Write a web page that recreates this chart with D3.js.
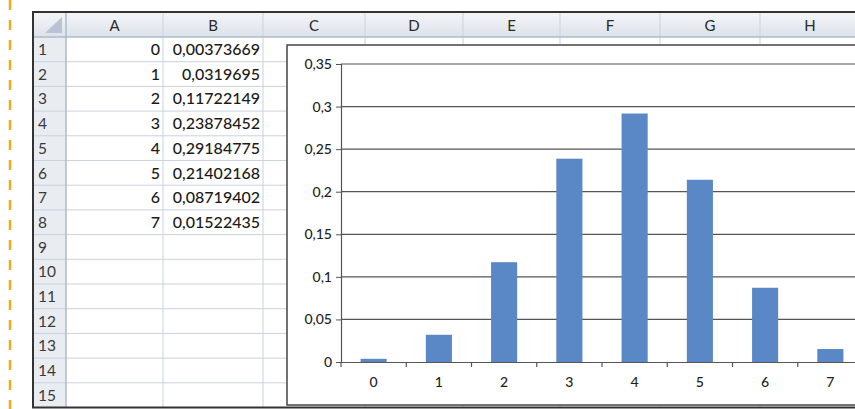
<!DOCTYPE html>
<html><head><meta charset="utf-8">
<script src="https://cdn.jsdelivr.net/npm/d3@7"></script>
<style>
html,body{margin:0;padding:0;background:#fff;overflow:hidden}
svg{display:block;font-family:Lato,"Open Sans",sans-serif}
</style></head>
<body><svg id="c" width="855" height="409"></svg>
<script>
// ---- data ----
const categories = [0, 1, 2, 3, 4, 5, 6, 7];
const values = [0.00373669, 0.0319695, 0.11722149, 0.23878452, 0.29184775, 0.21402168, 0.08719402, 0.01522435];
const valueLabels = ["0,00373669", "0,0319695", "0,11722149", "0,23878452", "0,29184775", "0,21402168", "0,08719402", "0,01522435"];
const yTicks = [0, 0.05, 0.1, 0.15, 0.2, 0.25, 0.3, 0.35];
const yTickLabels = ["0", "0,05", "0,1", "0,15", "0,2", "0,25", "0,3", "0,35"];
const columnLetters = ["A", "B", "C", "D", "E", "F", "G", "H"];
const rowNumbers = d3.range(1, 16);

const svg = d3.select("#c");
const FONT = "Lato,'Open Sans',sans-serif";

// ---- spreadsheet grid ----
const colEdges = [66, 163, 263, 365, 463, 560, 660, 760, 860];
const rowTop = 37, rowH = 24.7, headTop = 12;
const sheetLeft = 33, sheetBottom = rowTop + rowH * 15;

// orange dashed margin line
svg.append("line").attr("x1", 10).attr("x2", 10).attr("y1", 0).attr("y2", 409)
  .attr("stroke", "#f0a81c").attr("stroke-width", 2.5).attr("stroke-dasharray", "10,10");

const defs = svg.append("defs");
const hg = defs.append("linearGradient").attr("id", "hg").attr("x1", 0).attr("x2", 0).attr("y1", 0).attr("y2", 1);
hg.append("stop").attr("offset", 0).attr("stop-color", "#f4f6f9");
hg.append("stop").attr("offset", 1).attr("stop-color", "#dde2e9");

// header row
svg.append("rect").attr("x", sheetLeft).attr("y", headTop).attr("width", 855 - sheetLeft).attr("height", rowTop - headTop).attr("fill", "url(#hg)");
// row number column
svg.append("rect").attr("x", sheetLeft).attr("y", rowTop).attr("width", colEdges[0] - sheetLeft).attr("height", sheetBottom - rowTop).attr("fill", "#e9edf2");
// corner triangle
svg.append("path").attr("d", `M${colEdges[0]-4},${headTop+5} L${colEdges[0]-4},${rowTop-4} L${colEdges[0]-21},${rowTop-4} Z`).attr("fill", "#b8c4d4");

// horizontal cell lines
svg.append("g").selectAll("line").data(d3.range(0, 16)).join("line")
  .attr("x1", sheetLeft).attr("x2", 855)
  .attr("y1", i => rowTop + i * rowH).attr("y2", i => rowTop + i * rowH)
  .attr("stroke", "#c9d2dd").attr("stroke-width", 1);
// vertical cell lines
svg.append("g").selectAll("line").data(colEdges).join("line")
  .attr("x1", d => d).attr("x2", d => d).attr("y1", headTop).attr("y2", sheetBottom)
  .attr("stroke", "#c9d2dd").attr("stroke-width", 1);
svg.append("line").attr("x1", colEdges[0]).attr("x2", colEdges[0]).attr("y1", headTop).attr("y2", sheetBottom).attr("stroke", "#9fb0c4");
svg.append("line").attr("x1", sheetLeft).attr("x2", 855).attr("y1", rowTop).attr("y2", rowTop).attr("stroke", "#9fb0c4");

// column letters
svg.append("g").selectAll("text").data(columnLetters).join("text")
  .attr("x", (d, i) => (colEdges[i] + colEdges[i + 1]) / 2).attr("y", rowTop - 6)
  .attr("text-anchor", "middle").attr("font-size", 15).attr("fill", "#2a2a2a").text(d => d);
// row numbers
svg.append("g").selectAll("text").data(rowNumbers).join("text")
  .attr("x", 38).attr("y", (d, i) => rowTop + i * rowH + 18)
  .attr("font-size", 15.5).attr("fill", "#3a3a3a").text(d => d);
// cell values
svg.append("g").selectAll("text").data(categories).join("text")
  .attr("x", colEdges[1] - 3).attr("y", (d, i) => rowTop + i * rowH + 18)
  .attr("text-anchor", "end").attr("font-size", 16).attr("font-weight", 500).attr("fill", "#1a1a1a").text(d => d);
svg.append("g").selectAll("text").data(valueLabels).join("text")
  .attr("x", colEdges[2] - 3).attr("y", (d, i) => rowTop + i * rowH + 18)
  .attr("text-anchor", "end").attr("font-size", 16).attr("font-weight", 500).attr("fill", "#1a1a1a").text(d => d);

// sheet outer border
svg.append("path").attr("d", `M855,${headTop} L${sheetLeft},${headTop} L${sheetLeft},${sheetBottom} L855,${sheetBottom}`)
  .attr("fill", "none").attr("stroke", "#333").attr("stroke-width", 2);

// ---- chart object ----
const chartX = 287, chartY = 45;
svg.append("rect").attr("x", chartX).attr("y", chartY).attr("width", 600).attr("height", 360)
  .attr("fill", "#fff").attr("stroke", "#444").attr("stroke-width", 1.5);

const plotLeft = 341, plotRight = 863, plotTop = 64, plotBottom = 362;
const x = d3.scaleBand().domain(categories).range([plotLeft, plotRight]).paddingInner(0.6).paddingOuter(0.3);
const xb = d3.scaleBand().domain(categories).range([plotLeft, plotRight]);
const y = d3.scaleLinear().domain([0, 0.35]).range([plotBottom, plotTop]);

// gridlines
svg.append("g").selectAll("line").data(yTicks.slice(1)).join("line")
  .attr("x1", plotLeft).attr("x2", plotRight).attr("y1", d => y(d)).attr("y2", d => y(d))
  .attr("stroke", "#555").attr("stroke-width", 1.2);

// bars
svg.append("g").selectAll("rect").data(values).join("rect")
  .attr("x", (d, i) => x(categories[i])).attr("width", x.bandwidth())
  .attr("y", d => y(d)).attr("height", d => y(0) - y(d))
  .attr("fill", "#5a87c5");

// y axis
const yAxis = d3.axisLeft(y).tickValues(yTicks).tickSize(5).tickFormat((d, i) => yTickLabels[i]);
const gy = svg.append("g").attr("transform", `translate(${plotLeft},0)`).call(yAxis);
gy.select(".domain").attr("stroke", "#555").attr("stroke-width", 1.2);
gy.selectAll(".tick line").attr("stroke", "#555");
gy.selectAll("text").attr("font-size", 14).attr("font-weight", 500).attr("fill", "#1e1e1e").attr("font-family", FONT).attr("x", -9);

// x axis
const xAxis = d3.axisBottom(xb).tickSize(0).tickFormat(d => d);
const gx = svg.append("g").attr("transform", `translate(0,${plotBottom})`).call(xAxis);
gx.select(".domain").attr("stroke", "#555").attr("stroke-width", 1.2);
gx.selectAll("text").attr("font-size", 14).attr("font-weight", 500).attr("fill", "#1e1e1e").attr("font-family", FONT).attr("dy", "1.6em");
// tick marks at category boundaries
svg.append("g").selectAll("line").data(categories).join("line")
  .attr("x1", d => xb(d)).attr("x2", d => xb(d)).attr("y1", plotBottom).attr("y2", plotBottom + 5)
  .attr("stroke", "#555").attr("stroke-width", 1.2);
</script></body></html>
